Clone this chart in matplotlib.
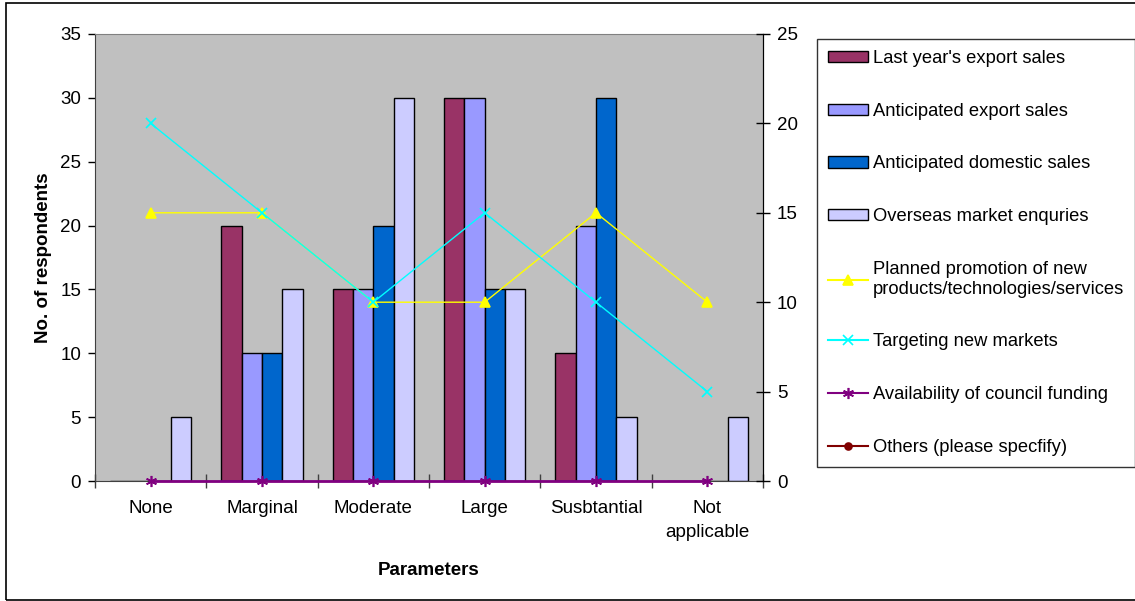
import numpy as np
import matplotlib.pyplot as plt
from matplotlib.lines import Line2D
from matplotlib.patches import Patch, Rectangle

plt.rcParams['font.family'] = ['Liberation Sans', 'DejaVu Sans']

categories = ['None', 'Marginal', 'Moderate', 'Large', 'Susbtantial', 'Not\napplicable']

# bar series (left axis, number of respondents)
last_year_export = [0, 20, 15, 30, 10, 0]
anticipated_export = [0, 10, 15, 30, 20, 0]
anticipated_domestic = [0, 10, 20, 15, 30, 0]
overseas_enquiries = [5, 15, 30, 15, 5, 5]

# line series (right axis); "Others" has no answers
planned_promotion = [15, 15, 10, 10, 15, 10]
targeting_markets = [20, 15, 10, 15, 10, 5]
council_funding = [0, 0, 0, 0, 0, 0]
others = [np.nan] * 6

bar_series = [
    ("Last year's export sales", last_year_export, '#993366'),
    ('Anticipated export sales', anticipated_export, '#9999FF'),
    ('Anticipated domestic sales', anticipated_domestic, '#0066CC'),
    ('Overseas market enquries', overseas_enquiries, '#CCCCFF'),
]
line_series = [
    ('Planned promotion of new\nproducts/technologies/services', planned_promotion, '#FFFF00', '^', 7),
    ('Targeting new markets', targeting_markets, '#00FFFF', 'x', 7),
    ('Availability of council funding', council_funding, '#800080', (6, 2, 0), 8),
    ('Others (please specfify)', others, '#800000', 'o', 5),
]


def createPlot(fig):
    ax = fig.add_axes([95 / 1135, 1 - 481 / 601, 668 / 1135, 447 / 601])
    ax.set_facecolor('#C0C0C0')
    x = np.arange(len(categories))
    w = 0.182

    handles = []
    for k, (name, vals, col) in enumerate(bar_series):
        ax.bar(x + (k - 1.5) * w, vals, width=w, color=col,
               edgecolor='black', linewidth=1.0, zorder=2)
        handles.append(Patch(facecolor=col, edgecolor='black', linewidth=1.0, label=name))

    ax.set_xlim(-0.5, len(categories) - 0.5)
    ax.set_ylim(0, 35)
    ax.set_yticks(np.arange(0, 36, 5))
    ax.set_xticks(np.arange(-0.5, len(categories), 1.0))
    ax.set_xticklabels([])
    ax.set_xticks(x, minor=True)
    ax.set_xticklabels(categories, minor=True, fontsize=13.5, linespacing=1.5)
    ax.tick_params(axis='x', which='major', direction='inout', length=10, width=1, color='#404040')
    ax.tick_params(axis='x', which='minor', length=0, pad=14)
    ax.tick_params(axis='y', direction='out', length=5, width=1, labelsize=13.5, pad=5)
    ax.spines['top'].set_color('#808080')
    ax.spines['left'].set_color('#404040')
    ax.spines['bottom'].set_color('#404040')
    ax.spines['right'].set_color('black')
    ax.set_xlabel('Parameters', fontsize=13.5, fontweight='bold', labelpad=15)
    ax.set_ylabel('No. of respondents', fontsize=13.5, fontweight='bold', labelpad=6)

    ax2 = ax.twinx()
    ax2.set_ylim(0, 25)
    ax2.set_yticks(np.arange(0, 26, 5))
    ax2.tick_params(axis='y', direction='inout', length=10, width=1, labelsize=13.5, pad=5)
    for s in ax2.spines.values():
        s.set_visible(False)
    ax2.spines['right'].set_visible(True)
    ax2.spines['right'].set_color('black')

    for name, vals, col, mk, ms in line_series:
        lw = 2.0 if mk == (6, 2, 0) else 1.0
        ax2.plot(x, vals, color=col, marker=mk, markersize=ms, linewidth=lw,
                 markeredgewidth=1.2, clip_on=False, zorder=4)
        handles.append(Line2D([], [], color=col, marker=mk, markersize=ms,
                              linewidth=1.5, markeredgewidth=1.2, label=name))

    leg = fig.legend(handles=handles, loc='upper left',
                     bbox_to_anchor=(817 / 1135, 1 - 39 / 601), borderaxespad=0,
                     fontsize=13.2, frameon=True, fancybox=False, edgecolor='black',
                     handlelength=2.2, handleheight=0.55, handletextpad=0.25,
                     labelspacing=1.95, borderpad=0.6, numpoints=1)
    leg.get_frame().set_linewidth(1.0)

    # outer chart border
    fig.patches.append(Rectangle((6 / 1135, 1 / 601), 1135 / 1135, 597 / 601,
                                 transform=fig.transFigure, fill=False,
                                 edgecolor='black', linewidth=1.2))


if __name__ == '__main__':
    fig = plt.figure(figsize=(11.35, 6.01), dpi=100)
    createPlot(fig)
    plt.savefig('out.png', dpi=100)
